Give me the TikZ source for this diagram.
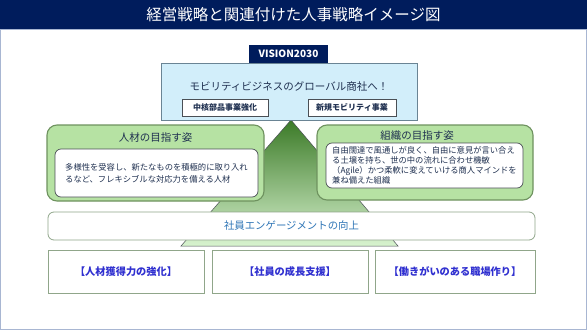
\documentclass[tikz,border=0pt]{standalone}
\usepackage{fontspec}
\setmainfont{Noto Sans CJK JP}
\usetikzlibrary{positioning, calc}

\definecolor{navy}{HTML}{001C5C}
\definecolor{skyfill}{HTML}{D2EEFA}
\definecolor{skyline}{HTML}{6A8494}
\definecolor{leaf}{HTML}{B6E2A3}
\definecolor{leafline}{HTML}{6E925F}
\definecolor{sage}{HTML}{90A68A}
\definecolor{inkline}{HTML}{4A4F55}
\definecolor{darktext}{HTML}{1F3050}
\definecolor{engblue}{HTML}{2E75B6}
\definecolor{pillarblue}{HTML}{3030D0}
\definecolor{frame}{HTML}{A8B6D2}
\definecolor{pinetop}{HTML}{3B7A27}
\definecolor{pinemid}{HTML}{8CC77A}
\definecolor{pinelow}{HTML}{D8F3CF}

\begin{document}
\begin{tikzpicture}[
  x=1pt, y=-1pt,
  every node/.style={inner sep=0pt, outer sep=0pt},
  visionbox/.style={rectangle, draw=skyline, fill=skyfill, line width=0.8pt, minimum width=256pt, minimum height=57pt},
  tagbox/.style={rectangle, fill=navy, text=white, font=\fontsize{10}{12}\selectfont\bfseries, minimum width=79pt, minimum height=18pt},
  subbox/.style={rectangle, draw=inkline, fill=white, line width=0.6pt, minimum height=17pt, font=\fontsize{8}{10}\selectfont\bfseries, text=darktext},
  aimbox/.style={rectangle, draw=leafline, fill=leaf, line width=1.1pt, rounded corners=10pt},
  aimtitle/.style={font=\fontsize{10.5}{12}\selectfont, text=darktext},
  aimtext/.style={rectangle, draw=inkline, fill=white, line width=0.7pt, rounded corners=6pt, align=left, inner xsep=6pt, text=darktext},
  engbox/.style={rectangle, draw=sage, fill=white, line width=0.8pt, rounded corners=6pt, minimum width=487pt, minimum height=28pt, font=\fontsize{10.4}{12}\selectfont, text=engblue},
  pillar/.style={rectangle, draw=sage, fill=white, line width=0.9pt, minimum height=43pt, font=\fontsize{10.2}{12}\selectfont\bfseries, text=pillarblue}
]
  \useasboundingbox (0,0) rectangle (587,330);
  \fill[white] (0,0) rectangle (587,330);

  % slide frame and title bar
  \draw[frame, line width=1.2pt] (0.6,29) -- (0.6,329.4) -- (586.4,329.4) -- (586.4,29);
  \fill[navy] (0,0) rectangle (587,29);
  \draw[frame, line width=0.8pt] (0,29.4) -- (587,29.4);
  \node[font=\fontsize{15.5}{18}\selectfont, text=white] (title) at (293.5,15) {経営戦略と関連付けた人事戦略イメージ図};

  % pyramid
  \coordinate (apex) at (291,120);
  \coordinate (baseL) at (181,246);
  \coordinate (baseR) at (398,246);
  \shade[top color=pinetop, middle color=pinemid, bottom color=pinelow, draw=inkline, line width=0.5pt]
    (apex) -- (baseR) -- (baseL) -- cycle;

  % vision
  \node[visionbox] (vision) at (289,91.5) {};
  \node[tagbox] (tag) at (288.5,54) {VISION2030};
  \node[font=\fontsize{10.5}{12}\selectfont, text=darktext] (slogan) at (289,87) {モビリティビジネスのグローバル商社へ！};
  \node[subbox, minimum width=86pt] (core) at (225,107.5) {中核部品事業強化};
  \node[subbox, minimum width=88pt] (newbiz) at (352,107.5) {新規モビリティ事業};

  % aims
  \node[aimbox, minimum width=217pt, minimum height=76pt] (people) at (155.5,163) {};
  \node[aimtitle] (peopletitle) at (155.5,138) {人材の目指す姿};
  \node[aimtext, minimum width=203pt, minimum height=48pt, font=\fontsize{8.3}{12}\selectfont] (peopletext) at (156.5,173)
    {多様性を受容し、新たなものを積極的に取り入れ\\るなど、フレキシブルな対応力を備える人材};

  \node[aimbox, minimum width=216pt, minimum height=75pt] (org) at (425,162.5) {};
  \node[aimtitle] (orgtitle) at (417,136) {組織の目指す姿};
  \node[aimtext, minimum width=197pt, minimum height=45pt, font=\fontsize{8.3}{10.2}\selectfont] (orgtext) at (424.5,165.5)
    {自由闊達で風通しが良く、自由に意見が言い合え\\る土壌を持ち、世の中の流れに合わせ機敏\\（Agile）かつ柔軟に変えていける商人マインドを\\兼ね備えた組織};

  % engagement and pillars
  \node[engbox] (engage) at (291.5,226) {社員エンゲージメントの向上};
  \node[pillar, minimum width=156pt] (hire) at (126,271.5) {【人材獲得力の強化】};
  \node[pillar, minimum width=156pt, right=8pt of hire] (grow) {【社員の成長支援】};
  \node[pillar, minimum width=160pt, right=7pt of grow] (work) {【働きがいのある職場作り】};
\end{tikzpicture}
\end{document}
